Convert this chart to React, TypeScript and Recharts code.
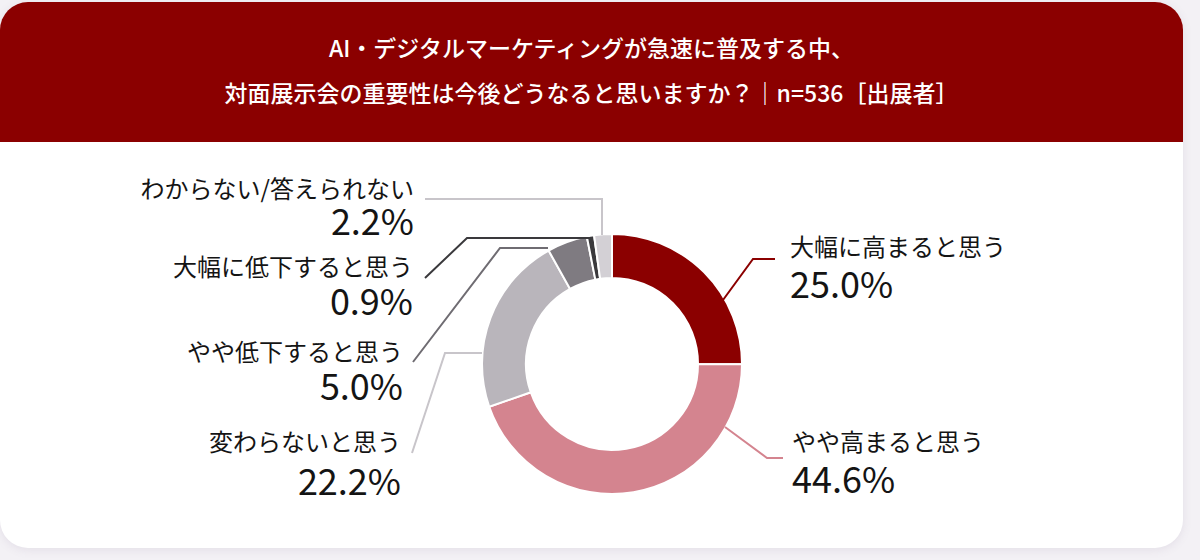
import { PieChart, Pie, Cell } from "recharts";

const categories = [
  "大幅に高まると思う",
  "やや高まると思う",
  "変わらないと思う",
  "やや低下すると思う",
  "大幅に低下すると思う",
  "わからない/答えられない",
];
const shares = [25.0, 44.6, 22.2, 5.0, 0.9, 2.2];

const titleLines = [
  "AI・デジタルマーケティングが急速に普及する中、",
  "対面展示会の重要性は今後どうなると思いますか？｜n=536［出展者］",
];

const sliceColors = ["#8b0000", "#d4848f", "#b9b5bb", "#7f7b81", "#3a393c", "#d3d0d5"];
const lineColors = ["#8b0000", "#d4848f", "#c8c5ca", "#6f6c72", "#3a393c", "#c8c5ca"];

// leader line points + text placement, relative to the pie centre
const labelLayout = [
  { pts: [[111, -64], [141, -105], [163, -105]], tx: 178, ny: -119, vy: -82, anchor: "start" },
  { pts: [[113, 63], [155, 94], [171, 94]], tx: 180, ny: 76, vy: 113, anchor: "start" },
  { pts: [[-130, -11], [-167, -11], [-200, 89]], tx: -211, ny: 76, vy: 115, anchor: "end" },
  { pts: [[-64, -116], [-112, -116], [-199, -2]], tx: -209, ny: -14, vy: 20, anchor: "end" },
  { pts: [[-20, -126], [-145, -126], [-187, -86]], tx: -199, ny: -99, vy: -65, anchor: "end" },
  { pts: [[-10, -129], [-10, -165], [-187, -165]], tx: -198, ny: -177, vy: -145, anchor: "end" },
];

const data = categories.map((name, i) => ({ name, value: shares[i] }));

const FONT = '"Noto Sans CJK JP", "Noto Sans", sans-serif';

function renderLabel(props: any) {
  const { cx, cy, index } = props;
  const l = labelLayout[index];
  const pts = l.pts.map(([x, y]) => `${cx + x},${cy + y}`).join(" ");
  return (
    <g key={`lbl-${index}`}>
      <polyline points={pts} fill="none" stroke={lineColors[index]} strokeWidth={2} />
      <text
        x={cx + l.tx}
        y={cy + l.ny}
        textAnchor={l.anchor}
        dominantBaseline="central"
        fontSize={24}
        fill="#141414"
        fontFamily={FONT}
      >
        {categories[index]}
      </text>
      <text
        x={cx + l.tx}
        y={cy + l.vy}
        textAnchor={l.anchor}
        dominantBaseline="central"
        fontSize={36}
        fill="#141414"
        fontFamily={FONT}
      >
        {`${shares[index].toFixed(1)}%`}
      </text>
    </g>
  );
}

export default function App() {
  return (
    <div
      style={{
        position: "fixed",
        left: 0,
        top: 0,
        width: 1200,
        height: 560,
        background: "#f3f1f5",
        overflow: "hidden",
        fontFamily: FONT,
      }}
    >
      <div
        style={{
          position: "absolute",
          left: 0,
          top: 2,
          width: 1183,
          height: 546,
          borderRadius: 28,
          background: "#fff",
          overflow: "hidden",
          boxShadow: "0 2px 10px rgba(120,100,140,0.12)",
        }}
      >
        <div
          style={{
            height: 140,
            background: "#8b0000",
            color: "#fff",
            textAlign: "center",
            fontSize: 23,
            fontWeight: 500,
            paddingTop: 23,
            boxSizing: "border-box",
            lineHeight: "45px",
          }}
        >
          {titleLines.map((t) => (
            <div key={t}>{t}</div>
          ))}
        </div>
      </div>
      <div style={{ position: "absolute", left: 0, top: 0 }}>
        <PieChart width={1200} height={560} margin={{ top: 0, right: 0, bottom: 0, left: 0 }}>
          <Pie
            data={data}
            dataKey="value"
            nameKey="name"
            cx={612}
            cy={364}
            innerRadius={86}
            outerRadius={130}
            startAngle={90}
            endAngle={-270}
            stroke="#fff"
            strokeWidth={2}
            label={renderLabel}
            labelLine={false}
            isAnimationActive={false}
          >
            {data.map((d, i) => (
              <Cell key={d.name} fill={sliceColors[i]} />
            ))}
          </Pie>
        </PieChart>
      </div>
    </div>
  );
}
